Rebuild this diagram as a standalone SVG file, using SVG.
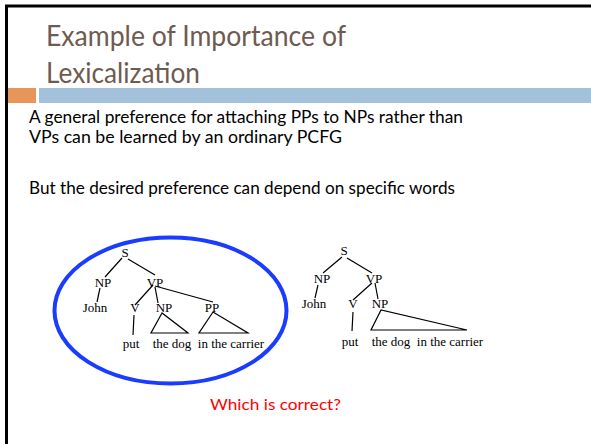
<svg xmlns="http://www.w3.org/2000/svg" width="591" height="444" viewBox="0 0 591 444">
<style>
.title{font-family:"Lato","Liberation Sans",sans-serif;font-size:29px;fill:#6f5a52}
.body{font-family:"Lato","Liberation Sans",sans-serif;font-size:17px;fill:#000}
.t{font-family:"Liberation Serif","Times New Roman",serif;font-size:13px;fill:#000;text-anchor:middle}
.ln{stroke:#000;stroke-width:1.2;fill:none}
.red{font-family:"Lato","Liberation Sans",sans-serif;font-size:16px;fill:#ff0000}
</style>
<rect width="591" height="444" fill="#fff"/>
<path d="M6.5 444 V6 H591" stroke="#000" stroke-width="3" fill="none"/>
<text class="title" x="46" y="46" textLength="300" lengthAdjust="spacingAndGlyphs">Example of Importance of</text>
<text class="title" x="46" y="83" textLength="154" lengthAdjust="spacingAndGlyphs">Lexicalization</text>
<rect x="8" y="88" width="28" height="15" fill="#e8955a"/>
<rect x="39" y="88" width="552" height="15" fill="#a3c1da"/>
<text class="body" x="29" y="123" textLength="434" lengthAdjust="spacingAndGlyphs">A general preference for attaching PPs to NPs rather than</text>
<text class="body" x="29" y="143" textLength="313" lengthAdjust="spacingAndGlyphs">VPs can be learned by an ordinary PCFG</text>
<text class="body" x="29" y="194" textLength="426" lengthAdjust="spacingAndGlyphs">But the desired preference can depend on specific words</text>
<g id="ellipse">
<ellipse cx="170.5" cy="310.5" rx="116" ry="73" fill="none" stroke="#1a3cff" stroke-width="4"/>
</g>
<g id="tree1">
<text class="t" x="125" y="257">S</text>
<text class="t" x="103" y="287">NP</text>
<text class="t" x="155" y="287">VP</text>
<text class="t" x="95" y="312">John</text>
<text class="t" x="135" y="312">V</text>
<text class="t" x="164" y="312">NP</text>
<text class="t" x="212" y="312">PP</text>
<text class="t" x="131" y="348">put</text>
<text class="t" x="172" y="348">the dog</text>
<text class="t" x="231" y="348">in the carrier</text>
</g>
<g id="tree2">
<text class="t" x="344" y="255">S</text>
<text class="t" x="322" y="283">NP</text>
<text class="t" x="374" y="283">VP</text>
<text class="t" x="314" y="308">John</text>
<text class="t" x="353" y="308">V</text>
<text class="t" x="380" y="308">NP</text>
<text class="t" x="350" y="346">put</text>
<text class="t" x="391" y="346">the dog</text>
<text class="t" x="450" y="346">in the carrier</text>
</g>
<g id="connectors">
<path class="ln" d="M122 258 L105 277 M128 259 L155 275 M100 288 L97 302 M153 285 L135 305 M155 287 L158 303 M155 286 L213 302 M134 315 L133 335 M162 313 L151 333 L188 333 Z M213 312 L199 333 L248 333 Z"/>
<path class="ln" d="M342 257 L323 273 M347 258 L372 273 M318 285 L315 298 M372 283 L353 300 M375 283 L378 299 M353 312 L352 331 M381 310 L371 330 L467 330 Z"/>
</g>
<text class="red" x="210" y="410" textLength="131" lengthAdjust="spacingAndGlyphs">Which is correct?</text>
</svg>
